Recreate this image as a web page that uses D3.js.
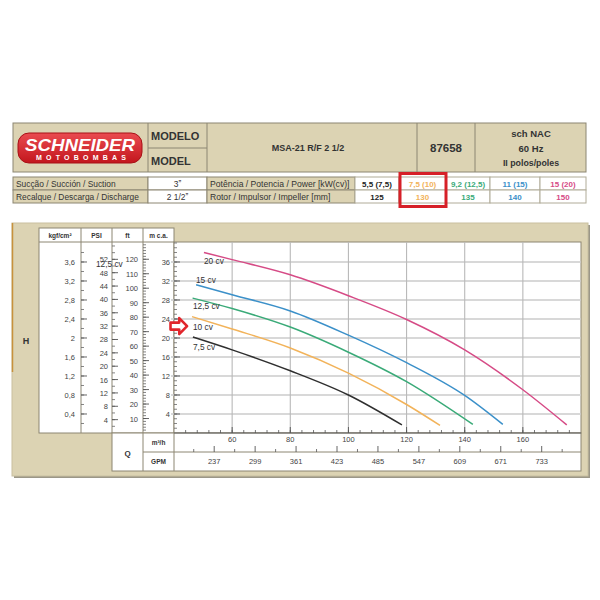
<!DOCTYPE html>
<html><head><meta charset="utf-8">
<script src="https://cdn.jsdelivr.net/npm/d3@7"></script>
<style>body{margin:0;background:#fff}svg{display:block;font-family:"Liberation Sans",Arial,sans-serif}</style>
</head><body><svg id="c" width="600" height="600"></svg>
<script>
// ---------- data ----------
const powerLabels = ["7,5 cv","10 cv","12,5 cv","15 cv","20 cv"];
const powerKw = ["5,5 (7,5)","7,5 (10)","9,2 (12,5)","11 (15)","15 (20)"];
const rotorMm = ["125","130","135","140","150"];
const seriesColors = ["#2f2f2f","#f2b35a","#3aaa78","#3b90c9","#d64b86"];
// [Q m3/h, H m.c.a.]
const curve75 = [[46.5,20.2],[60,17.5],[80,13.1],[100,8.0],[118.4,1.7]];
const curve10 = [[46.2,24.5],[60,21.9],[80,17.9],[100,12.6],[120,6.0],[131.5,1.6]];
const curve125 = [[46.4,28.4],[60,26.2],[80,22.3],[100,17.0],[120,10.8],[142.8,1.8]];
const curve15 = [[47.6,31.2],[60,29.1],[80,25.7],[100,20.6],[120,14.8],[140,7.9],[153.1,1.8]];
const curve20 = [[50.3,38.0],[60,36.5],[80,33.3],[100,28.9],[120,23.9],[140,17.5],[160,9.1],[175.1,1.7]];
const curves = [curve75, curve10, curve125, curve15, curve20];
const mcaTicks = [4,8,12,16,20,24,28,32,36];
const kgfTicks = [0.4,0.8,1.2,1.6,2,2.4,2.8,3.2,3.6];
const psiTicks = [4,8,12,16,20,24,28,32,36,40,44,48,52];
const ftTicks = [10,20,30,40,50,60,70,80,90,100,110,120];
const qTicks = [60,80,100,120,140,160];
const gpmTicks = [237,299,361,423,485,547,609,671,733];

// ---------- setup ----------
const svg = d3.select("#c");
const beige = "#dcd3b3", line = "#8c8672", txt = "#333";
const x = d3.scaleLinear().domain([40,180]).range([174,581]);
const y = d3.scaleLinear().domain([0,40.21]).range([433,242]);
const yKgf = v => y(v*10), yPsi = v => y(v*0.70307), yFt = v => y(v*0.3048);
const xGpm = v => x(v/4.4029);
const fmt = v => String(v).replace(".",",");

// ---------- header table ----------
const T = svg.append("g");
T.append("rect").attr("x",13).attr("y",123).attr("width",573).attr("height",49).attr("fill",beige).attr("stroke",line);
[[148,123,172],[207,123,172],[417,123,172],[475,123,172]].forEach(d=>T.append("line").attr("x1",d[0]).attr("x2",d[0]).attr("y1",d[1]).attr("y2",d[2]).attr("stroke",line));
T.append("line").attr("x1",148).attr("x2",207).attr("y1",148).attr("y2",148).attr("stroke",line);
// logo
const grad = svg.append("defs").append("linearGradient").attr("id","lg").attr("x1",0).attr("x2",0).attr("y1",0).attr("y2",1);
grad.append("stop").attr("offset","0%").attr("stop-color","#ea4b50");
grad.append("stop").attr("offset","100%").attr("stop-color","#c3161d");
T.append("rect").attr("x",18).attr("y",133).attr("width",124).attr("height",30).attr("rx",11).attr("fill","url(#lg)").attr("stroke","#a81016");
T.append("text").attr("x",80).attr("y",151).attr("text-anchor","middle").attr("fill","#fff").attr("font-size",17).attr("font-weight","900").attr("font-style","italic").attr("textLength",110).attr("lengthAdjust","spacingAndGlyphs").text("SCHNEIDER");
T.append("text").attr("x",81).attr("y",160).attr("text-anchor","middle").attr("fill","#fff").attr("font-size",7).attr("font-weight","bold").attr("textLength",90).attr("lengthAdjust","spacing").text("MOTOBOMBAS");
T.append("text").attr("x",151).attr("y",140).attr("font-size",11).attr("font-weight","bold").attr("fill",txt).text("MODELO");
T.append("text").attr("x",151).attr("y",165).attr("font-size",11).attr("font-weight","bold").attr("fill",txt).text("MODEL");
T.append("text").attr("x",308).attr("y",151).attr("text-anchor","middle").attr("font-size",9).attr("font-weight","bold").attr("fill",txt).text("MSA-21 R/F 2 1/2");
T.append("text").attr("x",446).attr("y",152).attr("text-anchor","middle").attr("font-size",11.5).attr("font-weight","bold").attr("fill",txt).text("87658");
[["sch NAC",137,9.5],["60 Hz",152,9.5],["II polos/poles",166,8.8]].forEach(d=>T.append("text").attr("x",531).attr("y",d[1]).attr("text-anchor","middle").attr("font-size",d[2]).attr("font-weight","bold").attr("fill",txt).text(d[0]));

// spec rows
const rows = [
  {y:177, a:"Sucção / Succión / Suction", b:"3\u02ee", c:"Potência / Potencia / Power [kW(cv)]", v:powerKw},
  {y:190, a:"Recalque / Descarga / Discharge", b:"2 1/2\u02ee", c:"Rotor / Impulsor / Impeller [mm]", v:rotorMm}
];
const valCols = [355,399,446,490,540,586];
rows.forEach(r=>{
  const g = T.append("g");
  g.append("rect").attr("x",13).attr("y",r.y).attr("width",135).attr("height",13).attr("fill",beige).attr("stroke",line);
  g.append("rect").attr("x",148).attr("y",r.y).attr("width",59).attr("height",13).attr("fill","#fff").attr("stroke",line);
  g.append("rect").attr("x",207).attr("y",r.y).attr("width",148).attr("height",13).attr("fill",beige).attr("stroke",line);
  g.append("text").attr("x",16).attr("y",r.y+10).attr("font-size",8.4).attr("fill",txt).text(r.a);
  g.append("text").attr("x",177.5).attr("y",r.y+10).attr("text-anchor","middle").attr("font-size",8.4).attr("fill",txt).text(r.b);
  g.append("text").attr("x",210).attr("y",r.y+10).attr("font-size",8.6).attr("fill",txt).text(r.c);
  r.v.forEach((v,i)=>{
    g.append("rect").attr("x",valCols[i]).attr("y",r.y).attr("width",valCols[i+1]-valCols[i]).attr("height",13).attr("fill","#fff").attr("stroke","#b0ab98");
    g.append("text").attr("x",(valCols[i]+valCols[i+1])/2).attr("y",r.y+10).attr("text-anchor","middle").attr("font-size",8).attr("font-weight","bold")
      .attr("fill", i===0 ? "#222" : seriesColors[i]).text(v);
  });
});
T.append("rect").attr("x",400).attr("y",173.5).attr("width",46).attr("height",33).attr("fill","none").attr("stroke","#d62028").attr("stroke-width",3);

// ---------- chart panel ----------
const P = svg.append("g");
P.append("rect").attr("x",14).attr("y",225).attr("width",576).attr("height",253).attr("fill","#9b9788");
P.append("rect").attr("x",12).attr("y",223).attr("width",576).attr("height",253).attr("fill",beige).attr("stroke","#c9c0a0");
P.append("line").attr("x1",12.5).attr("x2",12.5).attr("y1",223).attr("y2",372).attr("stroke","#c7913d").attr("stroke-width",1.5);
P.append("text").attr("x",26).attr("y",344).attr("text-anchor","middle").attr("font-size",9).attr("font-weight","bold").attr("fill",txt).text("H");
// left axes box
P.append("rect").attr("x",39).attr("y",228).attr("width",135).attr("height",205).attr("fill","#fff").attr("stroke",line);
P.append("line").attr("x1",39).attr("x2",174).attr("y1",242).attr("y2",242).attr("stroke",line);
[81,112,143].forEach(v=>P.append("line").attr("x1",v).attr("x2",v).attr("y1",228).attr("y2",433).attr("stroke",line));
[["kgf/cm²",60],["PSI",96.5],["ft",127.5],["m c.a.",158.5]].forEach(d=>P.append("text").attr("x",d[1]).attr("y",238).attr("text-anchor","middle").attr("font-size",6.5).attr("font-weight","bold").attr("fill",txt).text(d[0]));
// plot area
P.append("rect").attr("x",174).attr("y",242).attr("width",407).attr("height",191).attr("fill","#fff").attr("stroke",line);
// grid
P.selectAll(".hg").data(mcaTicks).join("line").attr("x1",171).attr("x2",581).attr("y1",d=>y(d)).attr("y2",d=>y(d)).attr("stroke","#cbcbcb").attr("stroke-width",1.3);
P.selectAll(".vg").data(qTicks).join("line").attr("x1",d=>x(d)).attr("x2",d=>x(d)).attr("y1",242).attr("y2",433).attr("stroke","#b9b9b9").attr("stroke-width",1.1);

// column axes: labels left of divider, ticks pointing right from divider
function colAxis(scale, majors, minorStep, maxV, divX, gap){
  const g = P.append("g");
  const minors = d3.range(minorStep, maxV+1e-9, minorStep);
  g.selectAll("line.mn").data(minors).join("line").attr("x1",divX).attr("x2",divX+3).attr("y1",d=>scale(d)).attr("y2",d=>scale(d)).attr("stroke","#666").attr("stroke-width",0.8);
  g.selectAll("line.mj").data(majors).join("line").attr("x1",divX).attr("x2",divX+6).attr("y1",d=>scale(d)).attr("y2",d=>scale(d)).attr("stroke","#555").attr("stroke-width",0.9);
  g.selectAll("text").data(majors).join("text").attr("x",divX-gap).attr("y",d=>scale(d)+3).attr("text-anchor","end").attr("font-size",7.5).attr("fill","#444").text(fmt);
}
colAxis(yKgf, kgfTicks, 0.2, 3.9, 81, 6);
colAxis(yPsi, psiTicks, 2, 56, 112, 4);
colAxis(yFt, ftTicks, 2, 130, 143, 5);
colAxis(y, mcaTicks, 1, 40, 174, 4);

// bottom Q section
const B = svg.append("g");
B.append("rect").attr("x",112).attr("y",433).attr("width",469).attr("height",38).attr("fill","#fff").attr("stroke",line);
B.append("line").attr("x1",143).attr("x2",143).attr("y1",433).attr("y2",471).attr("stroke",line);
B.append("line").attr("x1",174).attr("x2",174).attr("y1",433).attr("y2",471).attr("stroke",line);
B.append("line").attr("x1",143).attr("x2",581).attr("y1",452).attr("y2",452).attr("stroke",line);
B.append("line").attr("x1",174).attr("x2",581).attr("y1",433).attr("y2",433).attr("stroke","#666");
B.append("text").attr("x",127.5).attr("y",456).attr("text-anchor","middle").attr("font-size",8).attr("font-weight","bold").attr("fill",txt).text("Q");
B.append("text").attr("x",158.5).attr("y",445).attr("text-anchor","middle").attr("font-size",6.5).attr("font-weight","bold").attr("fill",txt).text("m³/h");
B.append("text").attr("x",158.5).attr("y",464).attr("text-anchor","middle").attr("font-size",6.5).attr("font-weight","bold").attr("fill",txt).text("GPM");
const qMinor = d3.range(44,180,4);
B.selectAll("line.qm").data(qMinor).join("line").attr("x1",d=>x(d)).attr("x2",d=>x(d)).attr("y1",433).attr("y2",430).attr("stroke","#555").attr("stroke-width",0.8);
B.selectAll("line.qM").data(qTicks).join("line").attr("x1",d=>x(d)).attr("x2",d=>x(d)).attr("y1",433).attr("y2",427).attr("stroke","#555").attr("stroke-width",0.9);
B.selectAll("text.q").data(qTicks).join("text").attr("x",d=>x(d)).attr("y",442).attr("text-anchor","middle").attr("font-size",7.5).attr("fill","#444").text(d=>d);
const gpmMinor = gpmTicks.map(d=>d-31).concat([764]);
B.selectAll("line.gm").data(gpmMinor).join("line").attr("x1",d=>xGpm(d)).attr("x2",d=>xGpm(d)).attr("y1",452).attr("y2",449).attr("stroke","#555").attr("stroke-width",0.8);
B.selectAll("line.gM").data(gpmTicks).join("line").attr("x1",d=>xGpm(d)).attr("x2",d=>xGpm(d)).attr("y1",452).attr("y2",446).attr("stroke","#555").attr("stroke-width",0.9);
B.selectAll("text.g").data(gpmTicks).join("text").attr("x",d=>xGpm(d)).attr("y",464).attr("text-anchor","middle").attr("font-size",7.5).attr("fill","#444").text(d=>d);

// curves
const lineGen = d3.line().x(d=>x(d[0])).y(d=>y(d[1])).curve(d3.curveMonotoneX);
svg.append("g").selectAll("path").data(curves).join("path").attr("d",lineGen).attr("fill","none")
  .attr("stroke",(d,i)=>seriesColors[i]).attr("stroke-width",1.5);
// curve labels
const labelX = [193,193,193,196,204];
const labelH = [17.4,21.6,26.2,31.6,35.5];
svg.append("g").selectAll("text").data(powerLabels).join("text")
  .attr("x",(d,i)=>labelX[i]).attr("y",(d,i)=>y(labelH[i])).attr("font-size",8.3).attr("fill","#333").text(d=>d);
// stray label as in original
svg.append("text").attr("x",96).attr("y",267).attr("font-size",8.3).attr("fill","#333").text(powerLabels[2]);
// red arrow pointing at 10 cv curve
const ay = y(22.5);
svg.append("path").attr("d",`M${x(38.8)},${ay-3.5} H${x(41.8)} V${ay-8} L${x(44.5)},${ay} L${x(41.8)},${ay+8} V${ay+3.5} H${x(38.8)} Z`)
  .attr("fill","#fff").attr("stroke","#e1262c").attr("stroke-width",2.6).attr("stroke-linejoin","round");
</script></body></html>
